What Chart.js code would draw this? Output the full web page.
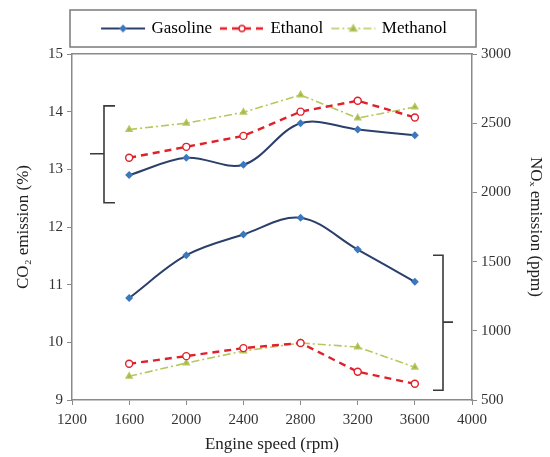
<!DOCTYPE html>
<html>
<head>
<meta charset="utf-8">
<script src="https://cdn.jsdelivr.net/npm/chart.js@4.4.1/dist/chart.umd.min.js"></script>
<style>
  html, body { margin: 0; padding: 0; background: #fff; }
</style>
</head>
<body>
<canvas id="emissionChart" width="550" height="457"></canvas>
<script>
// Engine speed (rpm)
const speeds = [1600, 2000, 2400, 2800, 3200, 3600];

// CO2 emission (%) - left axis
const co2Gasoline = [12.9, 13.2, 13.08, 13.8, 13.69, 13.59];
const co2Ethanol = [13.2, 13.39, 13.58, 14.0, 14.19, 13.9];
const co2Methanol = [13.69, 13.8, 13.99, 14.29, 13.89, 14.08];

// NOx emission (ppm) - right axis
const noxGasoline = [1237, 1546, 1696, 1817, 1587, 1354];
const noxEthanol = [762, 817, 875, 912, 704, 617];
const noxMethanol = [671, 767, 854, 912, 883, 737];

const fuels = ['Gasoline', 'Ethanol', 'Methanol'];
const xTicks = [1200, 1600, 2000, 2400, 2800, 3200, 3600, 4000];

const serif = "'Liberation Serif', 'Times New Roman', serif";

const styles = {
    Gasoline: { color: '#2b3f6b', width: 2, dash: [], marker: 'rectRot', radius: 3, fill: '#3c78bd', tension: 0.35 },
    Ethanol: { color: '#e0202a', width: 2.4, dash: [7, 5], marker: 'circle', radius: 3.5, fill: '#ffffff', tension: 0 },
    Methanol: { color: '#b6c85c', width: 1.6, dash: [8, 3, 2, 3], marker: 'triangle', radius: 3.5, fill: '#a0b456', tension: 0 }
};

function toPoints(values) {
    return speeds.map((s, i) => ({ x: s, y: values[i] }));
}

function makeDataset(fuel, values, axis) {
    const st = styles[fuel];
    return {
        label: fuel,
        data: toPoints(values),
        yAxisID: axis,
        borderColor: st.color,
        borderWidth: st.width,
        borderDash: st.dash,
        tension: st.tension,
        pointStyle: st.marker,
        pointRadius: st.radius,
        pointBackgroundColor: st.fill,
        pointBorderColor: fuel === 'Gasoline' ? st.fill : st.color,
        pointBorderWidth: 1.4,
        fill: false
    };
}

// Small canvas used as the legend sample (line + marker)
function legendSample(fuel) {
    const st = styles[fuel];
    const c = document.createElement('canvas');
    c.width = 46;
    c.height = 14;
    const g = c.getContext('2d');
    g.strokeStyle = st.color;
    g.lineWidth = st.width;
    g.setLineDash(st.dash);
    g.beginPath();
    g.moveTo(1, 7);
    g.lineTo(45, 7);
    g.stroke();
    g.setLineDash([]);
    g.fillStyle = st.fill;
    g.strokeStyle = fuel === 'Gasoline' ? st.fill : st.color;
    g.lineWidth = 1.4;
    g.beginPath();
    if (st.marker === 'circle') {
        g.arc(23, 7, 3, 0, Math.PI * 2);
    } else if (st.marker === 'triangle') {
        g.moveTo(23, 3.5); g.lineTo(26.5, 9.5); g.lineTo(19.5, 9.5); g.closePath();
    } else {
        g.moveTo(23, 4); g.lineTo(26, 7); g.lineTo(23, 10); g.lineTo(20, 7); g.closePath();
    }
    g.fill();
    g.stroke();
    return c;
}

// Brackets grouping the two families of curves (data units)
const brackets = [
    { spine: 1424, arm: 1501, tip: 1326, top: 14.10, bottom: 12.42, mid: 13.27 },
    { spine: 3797, arm: 3727, tip: 3867, top: 11.51, bottom: 9.17, mid: 10.35 }
];

const bracketPlugin = {
    id: 'brackets',
    afterDatasetsDraw(chart) {
        const { ctx, scales: { x, y } } = chart;
        ctx.save();
        ctx.strokeStyle = '#3a3a3a';
        ctx.lineWidth = 1.6;
        brackets.forEach(b => {
            const xs = x.getPixelForValue(b.spine);
            const xa = x.getPixelForValue(b.arm);
            const xt = x.getPixelForValue(b.tip);
            const yt = y.getPixelForValue(b.top);
            const yb = y.getPixelForValue(b.bottom);
            const ym = y.getPixelForValue(b.mid);
            ctx.beginPath();
            ctx.moveTo(xa, yt);
            ctx.lineTo(xs, yt);
            ctx.lineTo(xs, yb);
            ctx.lineTo(xa, yb);
            ctx.moveTo(xs, ym);
            ctx.lineTo(xt, ym);
            ctx.stroke();
        });
        ctx.restore();
    }
};

// Frame around the legend
const legendBoxPlugin = {
    id: 'legendBox',
    afterDraw(chart) {
        const { ctx, legend, chartArea } = chart;
        ctx.save();
        ctx.strokeStyle = '#7a7a7a';
        ctx.lineWidth = 1.5;
        ctx.strokeRect(chartArea.left - 2, legend.top, chartArea.right - chartArea.left + 6, legend.bottom - legend.top);
        ctx.restore();
    }
};

const tickFont = { family: serif, size: 15 };
const titleFont = { family: serif, size: 17 };
const axisGray = '#8a8a8a';

const ctx = document.getElementById('emissionChart').getContext('2d');
const mainChart = new Chart(ctx, {
    type: 'line',
    data: {
        datasets: [
            makeDataset('Gasoline', co2Gasoline, 'y'),
            makeDataset('Ethanol', co2Ethanol, 'y'),
            makeDataset('Methanol', co2Methanol, 'y'),
            makeDataset('Gasoline', noxGasoline, 'y1'),
            makeDataset('Ethanol', noxEthanol, 'y1'),
            makeDataset('Methanol', noxMethanol, 'y1')
        ]
    },
    options: {
        responsive: false,
        animation: false,
        layout: { padding: { top: 10, left: 0, right: 0, bottom: 0 } },
        plugins: {
            legend: {
                position: 'top',
                labels: {
                    usePointStyle: true,
                    pointStyleWidth: 40,
                    padding: 10,
                    color: '#222',
                    font: { family: serif, size: 17 },
                    generateLabels(chart) {
                        return fuels.map((fuel, i) => ({
                            text: fuel,
                            pointStyle: legendSample(fuel),
                            fillStyle: styles[fuel].color,
                            strokeStyle: styles[fuel].color,
                            lineWidth: 0,
                            hidden: false,
                            datasetIndex: i
                        }));
                    }
                }
            },
            tooltip: { enabled: false }
        },
        scales: {
            x: {
                type: 'linear',
                position: 'bottom',
                min: 1200,
                max: 4000,
                afterBuildTicks: scale => { scale.ticks = xTicks.map(v => ({ value: v })); },
                afterFit: scale => { scale.height = 57; },
                ticks: { font: tickFont, color: '#333', padding: 6, callback: v => String(v) },
                grid: { drawOnChartArea: false, tickLength: 5, color: axisGray },
                border: { color: axisGray, width: 1.5 },
                title: { display: true, text: 'Engine speed (rpm)', font: titleFont, color: '#222', padding: { top: 2, bottom: 2 } }
            },
            xTop: {
                type: 'linear',
                position: 'top',
                min: 1200,
                max: 4000,
                ticks: { display: false },
                grid: { drawOnChartArea: false, tickLength: 7, color: 'rgba(0,0,0,0)' },
                border: { color: axisGray, width: 1.5 }
            },
            y: {
                position: 'left',
                min: 9,
                max: 15,
                afterFit: scale => { scale.width = 72; },
                ticks: { stepSize: 1, font: tickFont, color: '#333', padding: 4, callback: v => String(v) },
                grid: { drawOnChartArea: false, tickLength: 5, color: axisGray },
                border: { color: axisGray, width: 1.5 },
                title: { display: true, text: 'CO₂ emission (%)', font: titleFont, color: '#222', padding: { top: 13, bottom: 4 } }
            },
            y1: {
                position: 'right',
                min: 500,
                max: 3000,
                afterFit: scale => { scale.width = 78; },
                ticks: { stepSize: 500, font: tickFont, color: '#333', padding: 4, callback: v => String(v) },
                grid: { drawOnChartArea: false, tickLength: 5, color: axisGray },
                border: { color: axisGray, width: 1.5 },
                title: { display: true, text: 'NOₓ emission (ppm)', font: titleFont, color: '#222', padding: { top: 4, bottom: 4 } }
            }
        }
    },
    plugins: [bracketPlugin, legendBoxPlugin]
});
</script>
</body>
</html>
